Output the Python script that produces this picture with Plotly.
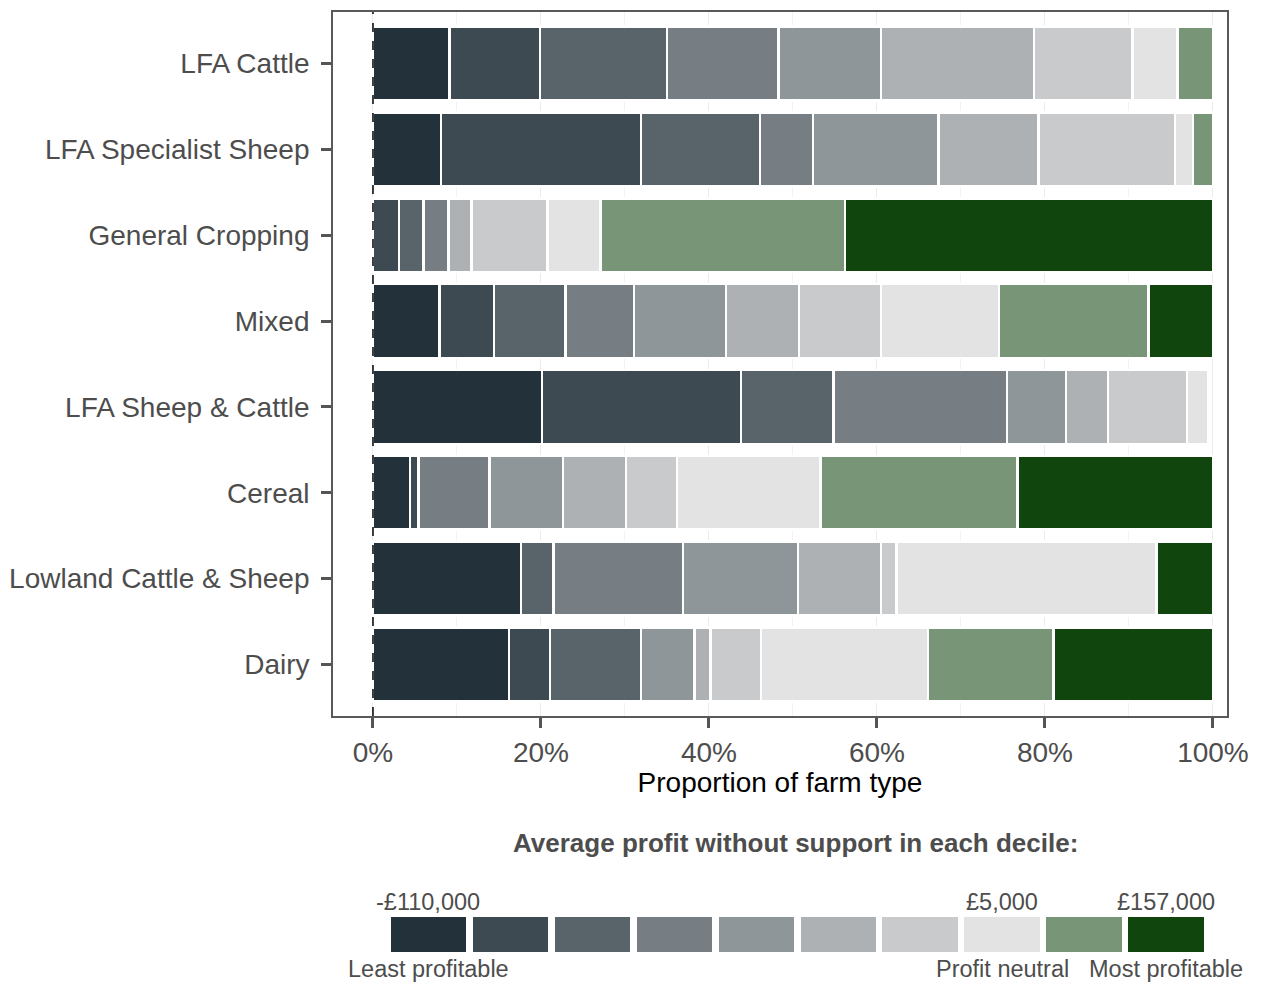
import plotly.graph_objects as go

categories = ["LFA Cattle", "LFA Specialist Sheep", "General Cropping", "Mixed",
              "LFA Sheep & Cattle", "Cereal", "Lowland Cattle & Sheep", "Dairy"]

# share (%) of each farm type in each profit decile (d1 = least profitable)
d1 = [9.1, 8.1, 0.0, 7.9, 20.1, 4.4, 17.6, 16.2]
d2 = [10.8, 23.8, 3.1, 6.5, 23.7, 1.0, 0.0, 4.9]
d3 = [15.1, 14.2, 2.9, 8.5, 11.0, 0.0, 3.9, 10.8]
d4 = [13.3, 6.3, 3.0, 8.2, 20.7, 8.5, 15.4, 0.0]
d5 = [12.2, 14.9, 0.0, 10.9, 7.0, 8.7, 13.7, 6.4]
d6 = [18.2, 11.9, 2.7, 8.7, 5.0, 7.5, 9.9, 1.9]
d7 = [11.7, 16.3, 9.1, 9.8, 9.4, 6.1, 1.8, 6.0]
d8 = [5.4, 2.1, 6.3, 14.0, 2.5, 17.1, 31.0, 19.9]
d9 = [4.2, 2.4, 29.1, 17.8, 0.0, 23.4, 0.0, 14.9]
d10 = [0.0, 0.0, 43.8, 7.7, 0.0, 23.3, 6.7, 19.0]
deciles = [d1, d2, d3, d4, d5, d6, d7, d8, d9, d10]

colors = ["#22313a", "#3d4a51", "#59646a", "#767d83", "#8f9699",
          "#adb1b3", "#c9cacc", "#e3e3e3", "#789577", "#10460e"]

legend_idx = list(range(10))
legend_top = {0: "-£110,000", 7: "£5,000", 9: "£157,000"}
legend_bottom = {0: "Least profitable", 7: "Profit neutral", 9: "Most profitable"}

FONT = "Liberation Sans, Arial, sans-serif"
fig = go.Figure()

for i, vals in enumerate(deciles):
    fig.add_trace(go.Bar(
        y=categories, x=[v / 100 for v in vals], orientation="h",
        marker=dict(color=colors[i], line=dict(color="white", width=2.5)),
        width=0.86, showlegend=False, xaxis="x", yaxis="y",
        hoverinfo="skip"))

# legend key drawn as a small bar chart
fig.add_trace(go.Bar(
    x=legend_idx, y=[1] * 10, marker=dict(color=colors, line=dict(color="white", width=0)),
    width=0.915, showlegend=False, xaxis="x2", yaxis="y2", hoverinfo="skip"))

fig.add_shape(type="line", x0=0, x1=0, xref="x", y0=0, y1=1, yref="y domain",
              line=dict(color="black", width=1.5, dash="dash"))

H_PLOT = 951.0
def py(pix):
    return (963 - pix) / H_PLOT

annotations = [dict(text="<b>Average profit without support in each decile:</b>",
                    x=(795 - 333) / 894, y=py(843), xref="paper", yref="paper",
                    yanchor="middle", xanchor="center",
                    showarrow=False, font=dict(size=26, color="#4d4d4d", family=FONT))]
for k, t in legend_top.items():
    annotations.append(dict(text=t, x=k, y=py(902), xref="x2", yref="paper",
                            yanchor="middle", xanchor="center",
                            showarrow=False, font=dict(size=23.5, color="#4d4d4d", family=FONT)))
for k, t in legend_bottom.items():
    annotations.append(dict(text=t, x=k, y=py(969), xref="x2", yref="paper",
                            yanchor="middle", xanchor="center",
                            showarrow=False, font=dict(size=23.5, color="#4d4d4d", family=FONT)))

fig.update_layout(
    width=1253, height=975,
    margin=dict(l=325, r=34, t=4, b=20, autoexpand=False),
    paper_bgcolor="white", plot_bgcolor="white",
    barmode="stack", bargap=0.14,
    font=dict(family=FONT, color="#4d4d4d"),
    xaxis=dict(domain=[0, 1], anchor="y", range=[-0.0476, 1.0167],
               tickvals=[0, 0.2, 0.4, 0.6, 0.8, 1.0],
               ticktext=["0%", "20%", "40%", "60%", "80%", "100%"],
               ticks="outside", ticklen=10, tickwidth=2.5, tickcolor="#555555",
               tickfont=dict(size=28, color="#4d4d4d"),
               showline=True, linecolor="#595959", linewidth=1.8, mirror=True,
               showgrid=True, gridcolor="#ebebeb", gridwidth=1.2,
               minor=dict(tickvals=[0.1, 0.3, 0.5, 0.7, 0.9], showgrid=True,
                          gridcolor="#f2f2f2", gridwidth=0.7),
               zeroline=False,
               title=dict(text="Proportion of farm type", standoff=4,
                          font=dict(size=28, color="black"))),
    yaxis=dict(domain=[py(716), 1], anchor="x", type="category",
               range=[7.6, -0.6],
               ticks="outside", ticklen=10, tickwidth=2.5, tickcolor="#555555",
               ticklabelstandoff=6,
               tickfont=dict(size=28, color="#4d4d4d"),
               showline=True, linecolor="#595959", linewidth=1.8, mirror=True,
               showgrid=False, zeroline=False),
    xaxis2=dict(domain=[0, 1], anchor="y2", range=[-1.159, 9.744],
                visible=False, fixedrange=True),
    yaxis2=dict(domain=[py(952), py(917)], anchor="x2", range=[0, 1],
                visible=False, fixedrange=True),
    annotations=annotations,
)

fig.write_html("out.html")
